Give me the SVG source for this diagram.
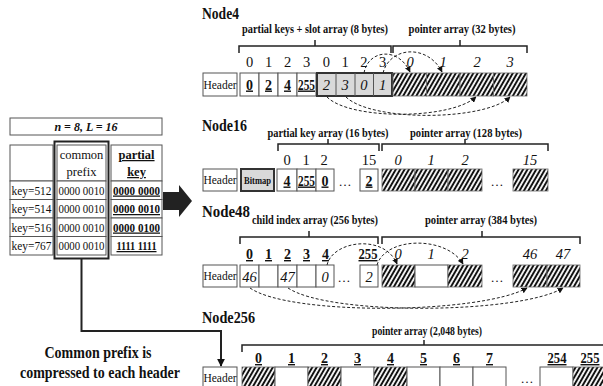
<svg xmlns="http://www.w3.org/2000/svg" width="603" height="386" viewBox="0 0 603 386">
<defs>
<pattern id="hatch" patternUnits="userSpaceOnUse" width="3.8" height="10" patternTransform="rotate(30)">
<rect width="3.8" height="10" fill="#fff"/>
<line x1="1.9" y1="0" x2="1.9" y2="10" stroke="#111" stroke-width="2"/>
</pattern>
<marker id="ah" viewBox="0 0 10 10" refX="9" refY="5" markerWidth="6" markerHeight="6" orient="auto" markerUnits="userSpaceOnUse">
<path d="M0,0 L10,5 L0,10 z" fill="#111"/>
</marker>
<marker id="ahb" viewBox="0 0 10 10" refX="9" refY="5" markerWidth="8" markerHeight="8" orient="auto" markerUnits="userSpaceOnUse">
<path d="M0,0 L10,5 L0,10 z" fill="#111"/>
</marker>
</defs>
<style>
text{font-family:"Liberation Serif","Times New Roman",serif;fill:#111}
.c{fill:#fff;stroke:#555;stroke-width:1}
.h{fill:url(#hatch);stroke:#666;stroke-width:0.8}
.g{fill:#d9d9d9;stroke:#333;stroke-width:2}
.gc{fill:none;stroke:#555;stroke-width:1}
.thick{fill:none;stroke:#222;stroke-width:2}
.br{fill:none;stroke:#222;stroke-width:1.5}
.dash{fill:none;stroke:#222;stroke-width:1;stroke-dasharray:3,2}
.title{font-weight:bold;font-size:16.5px}
.sub{font-weight:bold;font-size:12.5px;text-anchor:middle}
.sub2{font-weight:bold;font-size:11.5px;text-anchor:middle}
.idx{font-size:14.5px;text-anchor:middle}
.it{font-size:14.5px;font-style:italic;text-anchor:middle}
.bu{font-size:14px;font-weight:bold;text-decoration:underline;text-anchor:middle}
.hd{font-size:11.5px;text-anchor:middle}
.tb{font-size:12.5px;text-anchor:middle}
.tbb{font-size:12.5px;font-weight:bold;text-decoration:underline;text-anchor:middle}
.dots{font-size:13px;text-anchor:middle}
</style>

<g id="left-table">
<rect class="c" x="10" y="118" width="152" height="17"/>
<text x="86" y="131" style="font-size:12px;font-weight:bold;font-style:italic;text-anchor:middle">n = 8, L = 16</text>
<rect class="c" x="10" y="145" width="43" height="36"/>
<rect class="c" x="10" y="181" width="43" height="18.5"/>
<rect class="c" x="10" y="199.5" width="43" height="18.5"/>
<rect class="c" x="10" y="218" width="43" height="18.5"/>
<rect class="c" x="10" y="236.5" width="43" height="18.5"/>
<rect class="c" x="57" y="145" width="49" height="36"/>
<rect class="c" x="57" y="181" width="49" height="18.5"/>
<rect class="c" x="57" y="199.5" width="49" height="18.5"/>
<rect class="c" x="57" y="218" width="49" height="18.5"/>
<rect class="c" x="57" y="236.5" width="49" height="18.5"/>
<rect class="c" x="111" y="145" width="51" height="36"/>
<rect class="c" x="111" y="181" width="51" height="18.5"/>
<rect class="c" x="111" y="199.5" width="51" height="18.5"/>
<rect class="c" x="111" y="218" width="51" height="18.5"/>
<rect class="c" x="111" y="236.5" width="51" height="18.5"/>
<rect class="thick" x="54.5" y="141.5" width="54" height="117"/>
<text class="tb" x="81.5" y="159">common</text>
<text class="tb" x="81.5" y="176">prefix</text>
<text class="tbb" x="136.5" y="159">partial</text>
<text class="tbb" x="136.5" y="176">key</text>
<text class="tb" x="31.5" y="194.5" textLength="40" lengthAdjust="spacingAndGlyphs">key=512</text>
<text class="tb" x="31.5" y="213" textLength="40" lengthAdjust="spacingAndGlyphs">key=514</text>
<text class="tb" x="31.5" y="231.5" textLength="40" lengthAdjust="spacingAndGlyphs">key=516</text>
<text class="tb" x="31.5" y="250" textLength="40" lengthAdjust="spacingAndGlyphs">key=767</text>
<text class="tb" x="81.5" y="194.5" textLength="46" lengthAdjust="spacingAndGlyphs">0000 0010</text>
<text class="tb" x="81.5" y="213" textLength="46" lengthAdjust="spacingAndGlyphs">0000 0010</text>
<text class="tb" x="81.5" y="231.5" textLength="46" lengthAdjust="spacingAndGlyphs">0000 0010</text>
<text class="tb" x="81.5" y="250" textLength="46" lengthAdjust="spacingAndGlyphs">0000 0010</text>
<text class="tbb" x="136.5" y="194.5" textLength="47" lengthAdjust="spacingAndGlyphs">0000 0000</text>
<text class="tbb" x="136.5" y="213" textLength="47" lengthAdjust="spacingAndGlyphs">0000 0010</text>
<text class="tbb" x="136.5" y="231.5" textLength="47" lengthAdjust="spacingAndGlyphs">0000 0100</text>
<text class="tbb" x="136.5" y="250" textLength="40" lengthAdjust="spacingAndGlyphs">1111 1111</text>
<polygon points="163,192 179,192 179,185 192,201 179,217 179,210 163,210" fill="#222"/>
<text x="98" y="358" textLength="107" lengthAdjust="spacingAndGlyphs" style="font-size:16px;font-weight:bold;text-anchor:middle">Common prefix is</text>
<text x="100" y="378" textLength="160" lengthAdjust="spacingAndGlyphs" style="font-size:16px;font-weight:bold;text-anchor:middle">compressed to each header</text>
</g>

<g id="node4">
<text class="title" x="202" y="19" textLength="37" lengthAdjust="spacingAndGlyphs">Node4</text>
<text class="sub2" x="315" y="33" textLength="146" lengthAdjust="spacingAndGlyphs">partial keys + slot array (8 bytes)</text>
<text class="sub2" x="462" y="33" textLength="107" lengthAdjust="spacingAndGlyphs">pointer array (32 bytes)</text>
<path class="br" d="M239,53 V46 H391 V53 M315,46 V40"/>
<path class="br" d="M393,53 V46 H527 V53 M460,46 V40"/>
<g>
<text class="idx" x="249.5" y="67">0</text><text class="idx" x="268.5" y="67">1</text><text class="idx" x="287.5" y="67">2</text><text class="idx" x="306.5" y="67">3</text>
<text class="idx" x="326.4" y="67">0</text><text class="idx" x="345.1" y="67">1</text><text class="idx" x="363.9" y="67">2</text><text class="idx" x="382.6" y="67">3</text>
<text class="it" x="410" y="67">0</text><text class="it" x="443" y="67">1</text><text class="it" x="477" y="67">2</text><text class="it" x="510" y="67">3</text>
</g>
<rect class="c" x="203" y="73" width="34" height="23"/>
<text class="hd" x="220" y="88.5">Header</text>
<rect class="c" x="240" y="73" width="19" height="23"/><rect class="c" x="259" y="73" width="19" height="23"/><rect class="c" x="278" y="73" width="19" height="23"/><rect class="c" x="297" y="73" width="19" height="23"/>
<text class="bu" x="249.5" y="89.5">0</text><text class="bu" x="268.5" y="89.5">2</text><text class="bu" x="287.5" y="89.5">4</text><text class="bu" x="306.5" y="89.5" textLength="17" lengthAdjust="spacingAndGlyphs">255</text>
<rect class="g" x="317" y="73" width="75" height="23"/>
<path class="gc" d="M336,73 V96 M355,73 V96 M373.5,73 V96"/>
<text class="it" x="326.4" y="90">2</text><text class="it" x="345.1" y="90">3</text><text class="it" x="363.9" y="90">0</text><text class="it" x="382.6" y="90">1</text>
<rect class="h" x="393" y="73" width="33.5" height="23"/><rect class="h" x="426.5" y="73" width="33.5" height="23"/><rect class="h" x="460" y="73" width="33.5" height="23"/><rect class="h" x="493.5" y="73" width="33.5" height="23"/>
</g>

<g id="node16">
<text class="title" x="202" y="131" textLength="45" lengthAdjust="spacingAndGlyphs">Node16</text>
<text class="sub2" x="328" y="137" textLength="121" lengthAdjust="spacingAndGlyphs">partial key array (16 bytes)</text>
<text class="sub2" x="466" y="137" textLength="112" lengthAdjust="spacingAndGlyphs">pointer array (128 bytes)</text>
<path class="br" d="M278,151 V144 H379 V151 M328,144 V139"/>
<path class="br" d="M382,151 V144 H548 V151 M465,144 V139"/>
<text class="idx" x="287" y="165">0</text><text class="idx" x="306" y="165">1</text><text class="idx" x="324" y="165">2</text><text class="idx" x="369" y="165">15</text>
<text class="it" x="398" y="165">0</text><text class="it" x="431" y="165">1</text><text class="it" x="465" y="165">2</text><text class="it" x="530" y="165">15</text>
<rect class="c" x="203" y="169" width="34" height="22"/>
<text class="hd" x="220" y="184">Header</text>
<rect class="g" x="241" y="169" width="33" height="22"/>
<text x="257.5" y="184" textLength="27" lengthAdjust="spacingAndGlyphs" style="font-size:10.5px;font-weight:bold;text-anchor:middle">Bitmap</text>
<rect class="c" x="277" y="169" width="20" height="22"/><rect class="c" x="297" y="169" width="19" height="22"/><rect class="c" x="316" y="169" width="18" height="22"/>
<text class="bu" x="287" y="185.5">4</text><text class="bu" x="306.5" y="185.5" textLength="17" lengthAdjust="spacingAndGlyphs">255</text><text class="bu" x="325" y="185.5">0</text>
<text class="dots" x="345" y="186">…</text>
<rect class="c" x="360" y="169" width="18" height="22"/>
<text class="bu" x="369" y="185.5">2</text>
<rect class="h" x="382" y="169" width="33" height="22"/><rect class="h" x="415" y="169" width="33" height="22"/><rect class="h" x="448" y="169" width="34" height="22"/>
<text class="dots" x="497" y="186">…</text>
<rect class="h" x="513" y="169" width="35" height="22"/>
</g>

<g id="node48">
<text class="title" x="202" y="217" textLength="48" lengthAdjust="spacingAndGlyphs">Node48</text>
<text class="sub" x="315" y="224" textLength="126" lengthAdjust="spacingAndGlyphs">child index array (256 bytes)</text>
<text class="sub" x="481" y="224" textLength="112" lengthAdjust="spacingAndGlyphs">pointer array (384 bytes)</text>
<path class="br" d="M240,244 V237 H378 V244 M309,237 V231"/>
<path class="br" d="M382,244 V237 H580 V244 M482,237 V231"/>
<text class="bu" x="249.5" y="259">0</text><text class="bu" x="268.5" y="259">1</text><text class="bu" x="287.5" y="259">2</text><text class="bu" x="306.5" y="259">3</text><text class="bu" x="325.5" y="259">4</text><text class="bu" x="368" y="259" textLength="19" lengthAdjust="spacingAndGlyphs">255</text>
<text class="it" x="398" y="259">0</text><text class="it" x="431" y="259">1</text><text class="it" x="465" y="259">2</text><text class="it" x="530" y="259">46</text><text class="it" x="563" y="259">47</text>
<rect class="c" x="203" y="265" width="34" height="22"/>
<text class="hd" x="220" y="280">Header</text>
<rect class="c" x="240" y="265" width="19" height="22"/><rect class="c" x="259" y="265" width="19" height="22"/><rect class="c" x="278" y="265" width="19" height="22"/><rect class="c" x="297" y="265" width="19" height="22"/><rect class="c" x="316" y="265" width="18" height="22"/>
<text class="it" x="249.5" y="281.5">46</text><text class="it" x="287.5" y="281.5">47</text><text class="it" x="325" y="281.5">0</text>
<text class="dots" x="344" y="282">…</text>
<rect class="c" x="360" y="265" width="18" height="22"/>
<text class="it" x="369" y="281.5">2</text>
<rect class="h" x="382" y="265" width="33" height="22"/><rect class="c" x="415" y="265" width="33" height="22"/><rect class="h" x="448" y="265" width="34" height="22"/>
<text class="dots" x="497" y="282">…</text>
<rect class="h" x="513" y="265" width="34" height="22"/><rect class="h" x="547" y="265" width="33" height="22"/>
</g>

<g id="node256">
<text class="title" x="202" y="323" textLength="53" lengthAdjust="spacingAndGlyphs">Node256</text>
<text class="sub" x="427" y="335" textLength="110" lengthAdjust="spacingAndGlyphs">pointer array (2,048 bytes)</text>
<path class="br" d="M242,352 V345 H605 M424,345 V340"/>
<text class="bu" x="258.5" y="363">0</text><text class="bu" x="291.5" y="363">1</text><text class="bu" x="324.5" y="363">2</text><text class="bu" x="357.5" y="363">3</text><text class="bu" x="390.5" y="363">4</text><text class="bu" x="423.5" y="363">5</text><text class="bu" x="456.5" y="363">6</text><text class="bu" x="489.5" y="363">7</text><text class="bu" x="557" y="363" textLength="19" lengthAdjust="spacingAndGlyphs">254</text><text class="bu" x="590" y="363" textLength="19" lengthAdjust="spacingAndGlyphs">255</text>
<rect class="c" x="203" y="367" width="34" height="25"/>
<text class="hd" x="220" y="382">Header</text>
<rect class="h" x="242" y="367" width="33" height="25"/><rect class="c" x="275" y="367" width="33" height="25"/><rect class="h" x="308" y="367" width="33" height="25"/><rect class="c" x="341" y="367" width="33" height="25"/><rect class="h" x="374" y="367" width="33" height="25"/><rect class="c" x="407" y="367" width="33" height="25"/><rect class="c" x="440" y="367" width="33" height="25"/><rect class="c" x="473" y="367" width="33" height="25"/>
<text class="dots" x="527" y="383">…</text>
<rect class="c" x="540" y="367" width="33" height="25"/><rect class="h" x="573" y="367" width="33" height="25"/>
</g>

<g id="connectors">
<path class="dash" d="M364,73 C368,50 398,46 410,72" marker-end="url(#ah)"/>
<path class="dash" d="M383,73 C390,46 428,44 442,72" marker-end="url(#ah)"/>
<path class="dash" d="M327,97 C350,120 450,120 476,97" marker-end="url(#ah)"/>
<path class="dash" d="M346,97 C372,122 485,121 510,97" marker-end="url(#ah)"/>
<path class="dash" d="M327,265 C333,240 385,234 397,264" marker-end="url(#ah)"/>
<path class="dash" d="M377,265 C386,236 447,236 463,264" marker-end="url(#ah)"/>
<path class="dash" d="M250,288 C290,316 480,314 527,288" marker-end="url(#ah)"/>
<path class="dash" d="M288,288 C330,316 520,314 563,288" marker-end="url(#ah)"/>
<path d="M81.5,259 V331 H221 V366" fill="none" stroke="#222" stroke-width="2" marker-end="url(#ahb)"/>
</g>
</svg>
